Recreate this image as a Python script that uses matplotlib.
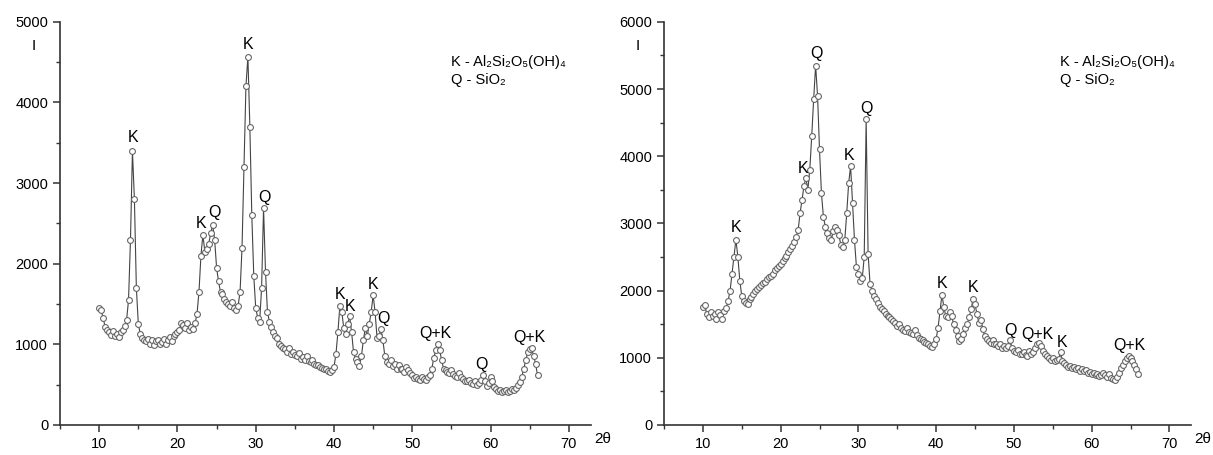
import matplotlib
matplotlib.use("Agg")
import matplotlib.pyplot as plt
import numpy as np
from matplotlib.ticker import MultipleLocator

plt.rcParams['font.family'] = ['Liberation Sans', 'DejaVu Sans']

# 2-theta scan grid, 0.25 deg steps from 10 to 66
two_theta = np.arange(10.0, 66.001, 0.25)

# left sample, one row = 2 degrees
left_I = [
    1450, 1420, 1330, 1220, 1180, 1150, 1120, 1160,
    1100, 1130, 1090, 1150, 1180, 1230, 1300, 1550,
    2300, 3400, 2800, 1700, 1250, 1130, 1080, 1060,
    1040, 1070, 1010, 1050, 990, 1040, 1060, 1000,
    1030, 1070, 1000, 1060, 1090, 1040, 1100, 1130,
    1150, 1180, 1270, 1240, 1200, 1260, 1180, 1220,
    1190, 1260, 1380, 1650, 2100, 2360, 2150, 2180,
    2250, 2380, 2480, 2300, 1950, 1780, 1650, 1620,
    1560, 1530, 1500, 1470, 1520, 1450, 1430, 1480,
    1650, 2200, 3200, 4200, 4570, 3700, 2600, 1850,
    1450, 1330, 1280, 1700, 2690, 1900, 1400, 1280,
    1220, 1150, 1100, 1080, 1000, 980, 950, 940,
    900, 960, 880, 900, 870, 850, 890, 820,
    840, 800, 860, 790, 780, 800, 760, 740,
    750, 720, 710, 690, 700, 670, 660, 680,
    720, 880, 1150, 1480, 1400, 1200, 1130, 1250,
    1350, 1150, 900, 820, 780, 730, 850, 1050,
    1200, 1100, 1250, 1400, 1610, 1400, 1080, 1100,
    1190, 1050, 850, 780, 760, 800, 730, 760,
    700, 740, 690, 700, 660, 720, 680, 640,
    620, 580, 600, 570, 560, 590, 570, 560,
    600, 620, 700, 830, 930, 1000, 930, 800,
    700, 680, 660, 640, 680, 630, 610, 590,
    640, 600, 570, 550, 540, 560, 520, 510,
    540, 500, 520, 560, 620, 540, 480, 520,
    600, 540, 470, 440, 420, 430, 410, 420,
    430, 410, 420, 440, 430, 460, 490, 530,
    600, 700, 800, 900, 940, 950, 860, 760,
    620,
]

# right sample
right_I = [
    1750, 1780, 1650, 1600, 1680, 1620, 1650, 1580,
    1680, 1640, 1580, 1700, 1740, 1850, 2000, 2250,
    2500, 2760, 2500, 2150, 1920, 1850, 1820, 1800,
    1880, 1900, 1950, 2000, 2020, 2050, 2080, 2120,
    2130, 2170, 2200, 2220, 2250, 2300, 2330, 2360,
    2400, 2440, 2480, 2520, 2570, 2620, 2660, 2720,
    2800, 2900, 3150, 3350, 3550, 3680, 3500, 3800,
    4300, 4850, 5350, 4900, 4100, 3450, 3100, 2950,
    2850, 2780, 2750, 2880, 2950, 2900, 2820, 2680,
    2650, 2750, 3150, 3600, 3850, 3300, 2750, 2350,
    2250, 2150, 2180, 2500, 4550, 2550, 2100, 2000,
    1920, 1880, 1820, 1760, 1730, 1700, 1650, 1620,
    1600, 1570, 1540, 1520, 1480, 1510, 1450, 1420,
    1400, 1450, 1380, 1370, 1350, 1420, 1340, 1300,
    1280, 1260, 1240, 1220, 1200, 1180, 1160, 1200,
    1280, 1450, 1700, 1940, 1750, 1620, 1600, 1680,
    1620, 1500, 1420, 1320, 1250, 1280, 1350, 1450,
    1500, 1600, 1720, 1880, 1800, 1650, 1520, 1560,
    1430, 1320, 1280, 1250, 1220, 1260, 1200, 1210,
    1180, 1200, 1150, 1180, 1140, 1170, 1260, 1150,
    1100, 1080, 1120, 1060, 1050, 1080, 1040, 1030,
    1100, 1060, 1090, 1150, 1200, 1220, 1170, 1100,
    1060, 1020, 990, 970, 990, 950, 960, 980,
    1080, 950, 920, 890, 870, 880, 850, 860,
    830, 850, 810, 830, 800, 820, 780, 790,
    760, 770, 740, 760, 730, 750, 770, 740,
    720, 760, 700, 690, 670, 720, 780, 850,
    900, 950, 990, 1030, 990, 950, 900, 830,
    760,
]

# peak labels: (text, 2theta, intensity at bottom of label)
left_labels = [("K", 14.3, 3470), ("K", 23.0, 2400), ("Q", 24.7, 2540),
               ("K", 29.0, 4620), ("Q", 31.1, 2730), ("K", 40.8, 1530),
               ("K", 42.0, 1380), ("K", 45.0, 1650), ("Q", 46.3, 1230),
               ("Q+K", 53.0, 1040), ("Q", 58.9, 660), ("Q+K", 65.0, 990)]
right_labels = [("K", 14.3, 2820), ("K", 22.9, 3700), ("Q", 24.6, 5420),
                ("K", 28.8, 3900), ("Q", 31.0, 4600), ("K", 40.8, 1990),
                ("K", 44.8, 1930), ("Q", 49.5, 1300), ("Q+K", 53.0, 1240),
                ("K", 56.2, 1110), ("Q+K", 64.8, 1070)]

legend_lines = ["K - Al\u2082Si\u2082O\u2085(OH)\u2084", "Q - SiO\u2082"]

fig = plt.figure(figsize=(12.13, 4.55), dpi=100)
ax1 = fig.add_axes([0.0495, 0.066, 0.4375, 0.886])
ax2 = fig.add_axes([0.5474, 0.066, 0.4346, 0.886])


def panel(ax, y, labels, ymax, lx):
    ax.plot(two_theta, y, color='#444444', lw=0.8, marker='o', ms=4.2,
            mfc='white', mec='#666666', mew=0.8)
    ax.set_xlim(5, 72.8)
    ax.set_ylim(0, ymax)
    ax.xaxis.set_major_locator(MultipleLocator(10))
    ax.xaxis.set_minor_locator(MultipleLocator(5))
    ax.yaxis.set_major_locator(MultipleLocator(1000))
    ax.yaxis.set_minor_locator(MultipleLocator(500))
    for s in ['top', 'right']:
        ax.spines[s].set_visible(False)
    for s in ['left', 'bottom']:
        ax.spines[s].set_color('#333333')
        ax.spines[s].set_linewidth(1.2)
    ax.tick_params(which='major', direction='out', length=5, width=1.1,
                   labelsize=10.5, colors='#333333', labelcolor='black')
    ax.tick_params(which='minor', direction='out', length=3, width=1.0,
                   colors='#333333')
    for txt, x, yy in labels:
        ax.text(x, yy, txt, ha='center', va='bottom', fontsize=11.5)
    ax.text(lx, 0.90, legend_lines[0], transform=ax.transAxes, fontsize=10.5,
            va='center', ha='left')
    ax.text(lx, 0.856, legend_lines[1], transform=ax.transAxes, fontsize=10.5,
            va='center', ha='left')
    ax.annotate("I", xy=(0, 1), xycoords='axes fraction', xytext=(-26, -24),
                textcoords='offset pixels', ha='center', va='center', fontsize=11)
    ax.annotate("2\u03b8", xy=(1, 0), xycoords='axes fraction', xytext=(12, -14),
                textcoords='offset pixels', ha='center', va='center', fontsize=11)


panel(ax1, left_I, left_labels, 5000, 0.736)
panel(ax2, right_I, right_labels, 6000, 0.751)

fig.savefig("out.png", dpi=100)
